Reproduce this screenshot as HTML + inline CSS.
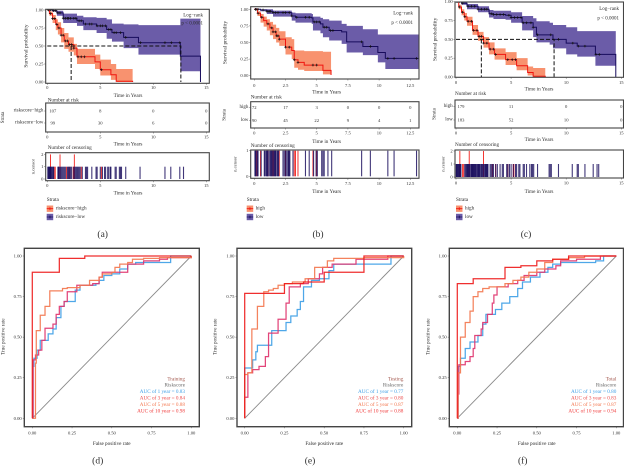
<!DOCTYPE html>
<html>
<head>
<meta charset="utf-8">
<title>Survival and ROC panels</title>
<style>
html,body{margin:0;padding:0;background:#fff;width:624px;height:467px;overflow:hidden}
svg{display:block;filter:blur(0.35px)}
text{font-family:"Liberation Serif",serif;fill:#2e2e2e}
</style>
</head>
<body>
<svg id="figure" width="624" height="467" viewBox="0 0 624 467" xmlns="http://www.w3.org/2000/svg"></svg>
<script>
/* ---------- Kaplan-Meier data ---------- */
const aLowTime=[0,.5,.9,1.5,2.8,3.4,4.65,5.6,6.1,7.2,8.6,12.55,14.45];
const aLowSurv=[1,.99,.96,.885,.85,.805,.78,.73,.685,.62,.546,.36,0];
const aLowUpper=[1,1,.99,.95,.92,.90,.89,.87,.81,.80,.79,.88,.88];
const aLowLower=[1,.98,.92,.82,.78,.72,.68,.60,.56,.47,.38,.15,.15];
const aHighTime=[0,.2,.5,.8,1,1.3,1.6,2,2.5,2.8,4.5,5,6,6.5,8.05];
const aHighSurv=[1,.95,.88,.8,.75,.65,.57,.52,.47,.35,.28,.17,.10,.01,0];
const aHighUpper=[1,.98,.93,.87,.83,.75,.68,.62,.53,.46,.38,.31,.25,.18,.17];
const aHighLower=[1,.92,.82,.72,.66,.55,.46,.42,.37,.25,.18,.09,.03,0,0];
const aLowMarks=[.1,.2,.3,.6,.8,1,1.2,1.5,1.7,1.9,2,2.2,2.5,2.7,3,3.2,3.6,4,4.2,4.7,5,5.2,5.5,5.8,6,6.3,6.5,6.9,7.4,8.8,11.1,11.7,12.5];
const aHighMarks=[.1,.3,.5,.7,.9,1.1,1.3,1.5,1.7,1.9,2.1,2.3,2.5,2.9,3.2,3.5,5.1];
const aCensorLow=[.05,.1,.15,.2,.25,.3,.35,.4,.5,.55,.6,1,1.05,1.1,1.2,1.3,1.4,1.5,1.6,1.7,1.9,2,2.1,2.2,2.3,2.5,2.6,2.7,2.8,2.9,3,3.1,3.3,3.6,3.7,3.8,4.2,4.6,4.7,5,5.2,5.4,5.5,5.7,5.8,5.95,6,6.4,6.5,6.8,6.9,7,7.4,8.75,11.1,11.65,12.5,12.85];
const aCensorHigh=[.3,.65,.75,1.2,1.8,2.05,2.45,2.55,3.2,5.1];
const aCensorHighCounts=[2,1,1,2,1,1,1,2,1,1];
const aRiskHigh=[107,8,0,0];
const aRiskLow=[99,30,6,0];

const bLowTime=[0,.5,1,1.5,3,3.3,4.6,4.7,5.3,5.5,6,7,7.4,8.7,9.9,10.5,13.3];
const bLowSurv=[1,.99,.97,.95,.90,.88,.87,.81,.78,.73,.68,.66,.51,.44,.35,.26,.26];
const bLowUpper=[1,1,1,.98,.95,.94,.93,.89,.87,.85,.83,.78,.75,.70,.62,.62,.62];
const bLowLower=[1,.97,.93,.89,.83,.80,.78,.68,.64,.58,.53,.48,.35,.31,.20,.10,.10];
const bHighTime=[0,.25,.5,.75,1,1.25,1.5,1.75,2,2.5,3,3.2,3.5,4,5.5,6.15];
const bHighSurv=[1,.94,.88,.83,.78,.72,.66,.60,.55,.43,.38,.24,.20,.16,.08,.01];
const bHighUpper=[1,.97,.93,.89,.85,.81,.77,.72,.67,.58,.55,.38,.38,.37,.36,.38];
const bHighLower=[1,.90,.80,.74,.68,.61,.55,.50,.45,.32,.25,.12,.09,.07,.02,0];
const bLowMarks=[.1,.3,.7,1,1.1,1.2,1.3,1.5,1.7,1.9,2.3,2.5,2.8,3,3.4,4.1,4.4,4.8,5,5.2,5.6,5.8,6.1,6.3,8.6,9.3,10.7,11.2,13];
const bHighMarks=[.1,.2,.3,.6,1.1,1.4,1.5,1.7,1.8,1.9,2,2.5,2.8,3.2,3.5,4.7,5];
const bCensorLow=[.05,.1,.15,.25,.3,.55,.8,.85,.95,1,1.05,1.1,1.2,1.3,1.35,1.4,1.45,1.55,1.6,1.65,1.7,1.75,1.85,1.9,1.95,2.3,2.4,2.5,2.6,2.7,2.75,2.8,2.85,3.1,4.1,4.4,4.75,4.95,5.05,5.4,5.5,5.6,5.9,6.2,8.6,9.3,10.7,11.2,13];
const bCensorHigh=[.2,.5,1.1,1.5,2,2.5,3.2,3.3,3.5,4.7,5];
const bCensorHighCounts=[1,1,1,1,1,1,1,1,1,1,1];
const bRiskHigh=[72,17,3,0,0,0];
const bRiskLow=[90,45,22,9,4,1];

const cLowTime=[0,.5,1,2,3,3.4,4.5,5,6,7,7.3,8.5,8.8,10,11,12.65,14.5];
const cLowSurv=[1,.98,.94,.90,.84,.83,.82,.79,.72,.66,.56,.56,.50,.45,.41,.30,0];
const cLowUpper=[1,1,.97,.94,.89,.88,.88,.86,.81,.78,.74,.72,.69,.66,.61,.61,.61];
const cLowLower=[1,.96,.90,.86,.79,.77,.76,.72,.62,.53,.46,.43,.38,.30,.27,.15,.15];
const cHighTime=[0,.25,.5,.75,1,1.5,2,2.5,3,3.5,4.5,5.5,6.5,7,8.1];
const cHighSurv=[1,.93,.86,.80,.74,.62,.54,.45,.37,.30,.23,.15,.06,.01,0];
const cHighUpper=[1,.96,.90,.85,.80,.69,.60,.53,.46,.38,.33,.25,.14,.12,.12];
const cHighLower=[1,.90,.82,.75,.68,.56,.48,.39,.30,.23,.16,.09,.02,0,0];
const cLowMarks=[.1,.3,.6,1.1,1.4,1.7,2,2.3,2.6,2.8,3.2,3.4,3.7,4,4.3,4.8,5,5.3,5.6,5.9,6.1,6.4,6.8,7,7.4,8.6,9.3,10.6,11.1,11.7,12.7,13];
const cHighMarks=[.1,.3,.6,.8,1.1,1.4,1.6,1.9,2.1,2.3,2.5,2.8,3.1,3.4,3.6,4.7,5.1,5.4];
const cCensorLow=[.02,.05,.1,.15,.2,.25,.3,.35,.4,.45,.8,.85,.95,1,1.05,1.1,1.15,1.2,1.25,1.35,1.4,1.45,1.5,1.55,1.6,1.65,1.7,1.75,1.8,1.85,1.95,2,2.05,2.1,2.15,2.2,2.3,2.35,2.4,2.5,2.6,2.65,2.7,2.75,2.8,2.85,2.9,3.1,3.2,3.3,3.4,3.6,3.75,4,4.2,4.3,4.6,4.7,4.85,5,5.2,5.4,5.5,5.7,5.8,6.1,6.2,6.4,6.7,6.85,6.95,7.05,7.4,8.45,8.55,8.65,9.3,10.55,11,11.1,11.7,12.45,12.8,12.95];
const cCensorHigh=[.35,.6,.7,1.2,2.5,3.3,3.6,4.7,5.2,5.25];
const cCensorHighCounts=[2,1,1,2,2,1,1,1,1,1];
const cRiskHigh=[179,11,0,0];
const cRiskLow=[183,52,10,0];

const kmTicksSurv=[0,0.25,0.5,0.75,1];
const kmTickLabelsSurv=["0.00","0.25","0.50","0.75","1.00"];
const timeTicks15=[0,5,10,15];
const timeTicks125=[0,2.5,5,7.5,10,12.5];
const timeLabels125=["0","2.5","5","7.5","10","12.5"];

/* ---------- ROC data ---------- */
const dBlueFpr=[0,.005,.01,.03,.05,.1,.13,.15,.18,.2,.27,.3,.4,.42,.45,.5,.55,.6,.65,.87,1];
const dBlueTpr=[0,.32,.37,.42,.48,.52,.55,.62,.69,.72,.79,.82,.83,.85,.88,.89,.92,.95,.96,1,1];
const dPinkFpr=[0,.005,.02,.04,.06,.08,.13,.15,.17,.2,.22,.28,.38,.42,.44,.55,.6,.7,.8,.85,1];
const dPinkTpr=[0,.36,.39,.42,.48,.555,.58,.64,.69,.72,.78,.82,.83,.87,.90,.90,.95,.97,.98,.99,1];
const dOrangeFpr=[0,.02,.025,.05,.08,.11,.19,.22,.3,.36,.42,.44,.5,.52,.55,.6,.63,.7,.8,1];
const dOrangeTpr=[0,.34,.54,.635,.69,.785,.80,.805,.82,.85,.87,.89,.90,.93,.95,.96,.98,.985,.99,1];
const dRedFpr=[0,0,.17,.33,1];
const dRedTpr=[0,.9,.985,1,1];
const dAuc=["0.83","0.84","0.88","0.98"];

const eBlueFpr=[0,0,.05,.07,.08,.17,.26,.29,.33,.35,.37,.42,.47,.53,.56,.92,1];
const eBlueTpr=[0,.31,.36,.41,.45,.54,.59,.63,.67,.72,.81,.85,.86,.91,.95,1,1];
const ePinkFpr=[0,0,.02,.05,.09,.13,.15,.21,.26,.28,.35,.4,.47,.49,.55,.7,.9,1];
const ePinkTpr=[0,.13,.28,.30,.32,.38,.525,.61,.71,.81,.83,.86,.89,.93,.95,.98,1,1];
const eOrangeFpr=[0,0,.02,.045,.08,.12,.15,.18,.21,.25,.3,.38,.44,.5,.52,.56,.75,1];
const eOrangeTpr=[0,.27,.28,.55,.69,.78,.79,.80,.82,.83,.84,.86,.93,.93,.97,.985,.99,1];
const eRedFpr=[0,0,.25,.37,.5,.75,1];
const eRedTpr=[0,.77,.83,.84,.90,1,1];
const eAuc=["0.77","0.80","0.87","0.88"];

const fBlueFpr=[0,.005,.02,.05,.08,.13,.16,.18,.24,.28,.33,.38,.41,.46,.52,.57,.6,.65,.87,.92,1];
const fBlueTpr=[0,.32,.37,.43,.47,.51,.58,.64,.67,.71,.75,.80,.84,.87,.90,.93,.95,.96,.97,1,1];
const fPinkFpr=[0,.005,.01,.05,.08,.1,.11,.15,.16,.19,.22,.23,.25,.32,.38,.42,.5,.55,.62,.65,.75,.9,1];
const fPinkTpr=[0,.15,.33,.35,.38,.43,.51,.55,.59,.64,.71,.76,.81,.83,.85,.88,.90,.92,.94,.97,.98,1,1];
const fOrangeFpr=[0,.005,.02,.05,.08,.1,.13,.16,.2,.3,.35,.4,.45,.5,.55,.6,.7,.8,1];
const fOrangeTpr=[0,.28,.5,.59,.66,.75,.78,.80,.81,.83,.85,.87,.90,.92,.96,.98,.99,1,1];
const fRedFpr=[0,0,.1,.3,.4,.5,.6,.7,1];
const fRedTpr=[0,.83,.86,.93,.94,.97,.98,1,1];
const fAuc=["0.80","0.83","0.87","0.94"];

const rocTicks=[0,0.25,0.5,0.75,1];
const rocTickLabels=["0.00","0.25","0.50","0.75","1.00"];
const aucYears=["1","3","5","10"];

/* ---------- drawing helpers ---------- */
const NS="http://www.w3.org/2000/svg";
const root=document.getElementById("figure");
const NAVY="#170b5c",BAND_NAVY="#6b5ca8",RED="#f0140f",BAND_RED="#f8926f",FRAME="#444";
function node(tag,attrs,parent){
  const el=document.createElementNS(NS,tag);
  for(const k in attrs)el.setAttribute(k,attrs[k]);
  (parent||root).appendChild(el);
  return el;
}
function text(str,x,y,size,anchor,name,color,rot){
  const el=node("text",{x:x,y:y,"font-size":size,"text-anchor":anchor||"middle","dominant-baseline":"central"});
  if(color)el.style.fill=color;
  if(rot)el.setAttribute("transform","rotate(-90 "+x+" "+y+")");
  el.textContent=str;
  
  
  return el;
}
function frame(x1,y1,x2,y2,name,sw){
  const el=node("rect",{x:x1,y:y1,width:x2-x1,height:y2-y1,fill:"none",stroke:FRAME,"stroke-width":sw||1.1});
  
  
}
function tick(x1,y1,x2,y2){
  const el=node("line",{x1:x1,y1:y1,x2:x2,y2:y2,stroke:"#555","stroke-width":0.5});
  
  
}
function stepPath(t,v,X,Y){
  let d="M"+X(t[0])+" "+Y(v[0]);
  for(let i=1;i<t.length;i++)d+="H"+X(t[i])+"V"+Y(v[i]);
  return d;
}
function bandPath(t,up,lo,X,Y){
  let d="M"+X(t[0])+" "+Y(up[0]);
  for(let i=1;i<t.length;i++)d+="H"+X(t[i])+"V"+Y(up[i]);
  d+="V"+Y(lo[t.length-1]);
  for(let i=t.length-1;i>0;i--)d+="V"+Y(lo[i-1])+"H"+X(t[i-1]);
  return d+"Z";
}
function survAt(t,times,surv){
  let s=surv[0];
  for(let i=0;i<times.length;i++)if(times[i]<=t)s=surv[i];
  return s;
}
function drawStrata(g,series,color,band,X,Y,label){
  const b=node("path",{d:bandPath(series.t,series.u,series.l,X,Y),fill:band},g);
  
  
  const l=node("path",{d:stepPath(series.t,series.s,X,Y),fill:"none",stroke:color,"stroke-width":1},g);
  
  
  series.m.forEach(function(t){
    const x=X(t),y=Y(survAt(t,series.t,series.s));
    const c=node("path",{d:"M"+(x-1.3)+" "+y+"H"+(x+1.3)+"M"+x+" "+(y-1.3)+"V"+(y+1.3),stroke:"#111","stroke-width":0.7,fill:"none"},g);
    
    
  });
}

function drawSurvival(p){
  const X=function(t){return p.x0+(t-p.tMin)*(p.x1-p.x0)/(p.tMax-p.tMin);};
  const Y=function(s){return p.y0+(1-s)*(p.y1-p.y0);};
  const clipId="clip-"+p.id;
  const defs=node("defs",{});
  const cp=node("clipPath",{id:clipId},defs);
  node("rect",{x:p.fl,y:p.ft,width:p.fr-p.fl,height:p.fb-p.ft},cp);
  const g=node("g",{"clip-path":"url(#"+clipId+")"});
  
  
  drawStrata(g,p.low,NAVY,BAND_NAVY,X,Y,"low-risk");
  drawStrata(g,p.high,RED,BAND_RED,X,Y,"high-risk");
  if(p.medians){
    const d=node("path",{d:"M"+X(0)+" "+Y(.5)+"H"+X(p.medians[1])+"V"+Y(0)+"M"+X(p.medians[0])+" "+Y(.5)+"V"+Y(0),fill:"none",stroke:"#111","stroke-width":1,"stroke-dasharray":"4 2"},g);
    
    
  }
  frame(p.fl,p.ft,p.fr,p.fb,"survival-plot-frame");
  text("Log\u2212rank",p.lrx,p.lry,5,"end","log-rank-label");
  text("p < 0.0001",p.lrx,p.lry+(p.id==="a"?8:9.5),5,"end","log-rank-p-value");
  kmTicksSurv.forEach(function(v,i){
    tick(p.fl-1.5,Y(v),p.fl,Y(v));
    text(kmTickLabelsSurv[i],p.fl-2.3,Y(v),4.6,"end","survival-y-tick");
  });
  text("Survival probability",p.ytx,(p.y0+p.y1)/2,5.4,"middle","survival-y-title",null,true);
  p.ticks.forEach(function(v,i){
    tick(X(v),p.fb,X(v),p.fb+1.5);
    text(p.tickLabels[i],X(v),p.tly,4.6,"middle","survival-x-tick");
  });
  text("Time in Years",p.xtc,p.xty,5.2,"middle","survival-x-title");

  /* risk table */
  text("Number at risk",p.fl+(p.id==="a"?2:0),p.rTitle,5.2,"start","risk-table-title");
  frame(p.fl,p.rt,p.fr,p.rb,"risk-table-frame");
  [[p.rHigh,p.rowH,p.names[0]],[p.rLow,p.rowL,p.names[1]]].forEach(function(r){
    text(r[2],p.fl-2.3,r[1],5,"end","risk-row-label");
    tick(p.fl-1.5,r[1],p.fl,r[1]);
    r[0].forEach(function(v,i){
      text(String(v),X(p.ticks[i])+(i===0?p.firstOff:0),r[1],4.6,"middle","risk-count");
    });
  });
  text("Strata",p.stx,(p.rt+p.rb)/2,5,"middle","risk-strata-label",null,true);
  p.ticks.forEach(function(v,i){
    tick(X(v),p.rb,X(v),p.rb+1.5);
    text(p.tickLabels[i],X(v),p.rb+5,4.6,"middle","risk-x-tick");
  });
  text("Time in Years",p.xtc,p.rXt,5.2,"middle","risk-x-title");

  /* censor chart */
  text("Number of censoring",p.fl+(p.id==="a"?2:0),p.cTitle,5.2,"start","censor-chart-title");
  const C=function(n){return p.c0+n*(p.c1-p.c0);};
  const gc=node("g",{"clip-path":"url(#"+clipId+"c)"});
  
  
  const cp2=node("clipPath",{id:clipId+"c"},defs);
  node("rect",{x:p.fl,y:p.ct,width:p.fr-p.fl,height:p.cb-p.ct},cp2);
  p.cHigh.forEach(function(t,i){
    const n=p.cHighN[i];
    const b=node("rect",{x:X(t)-.45,y:C(n),width:.9,height:C(0)-C(n),fill:"#f2211c"},gc);
    
    
  });
  p.cLow.forEach(function(t){
    const b=node("rect",{x:X(t)-.55,y:C(1),width:1.1,height:C(0)-C(1),fill:NAVY,"fill-opacity":.82},gc);
    
    
  });
  frame(p.fl,p.ct,p.fr,p.cb,"censor-chart-frame");
  p.cTicks.forEach(function(n){
    tick(p.fl-1.5,C(n),p.fl,C(n));
    text(String(n),p.fl-2.3,C(n),4.6,"end","censor-y-tick");
  });
  text("n.censor",p.cyx,(p.ct+p.cb)/2,4.6,"middle","censor-y-title",null,true);
  p.ticks.forEach(function(v,i){
    tick(X(v),p.cb,X(v),p.cb+1.5);
    text(p.tickLabels[i],X(v),p.cb+5,4.6,"middle","censor-x-tick");
  });
  text("Time in Years",p.xtc,p.cXt,5.2,"middle","censor-x-title");

  /* legend */
  text("Strata",p.lgx,200,5.2,"start","legend-title");
  [[208.7,BAND_RED,RED,"#111",p.names[0]],[217,BAND_NAVY,NAVY,"#111",p.names[1]]].forEach(function(e){
    const sq=node("rect",{x:p.lgx,y:e[0]-3.2,width:6.5,height:6.4,fill:e[1]});
    
    
    const ln=node("path",{d:"M"+p.lgx+" "+e[0]+"h6.5M"+(p.lgx+3.25)+" "+(e[0]-1.4)+"v2.8",stroke:e[2],"stroke-width":.8});
    
    
    text(e[4],p.lgx+9,e[0],5.2,"start","legend-label");
  });
  text("("+p.id+")",p.capx,235,9.5,"middle","panel-caption");
}

function drawRoc(p){
  const X=function(v){return p.x0+v*(p.x1-p.x0);};
  const Y=function(v){return p.y0+(1-v)*(p.y1-p.y0);};
  const diag=node("line",{x1:X(0),y1:Y(0),x2:X(1),y2:Y(1),stroke:"#8a8a8a","stroke-width":.9});
  
  
  p.curves.forEach(function(c){
    const l=node("path",{d:stepPath(c.f,c.t,X,Y),fill:"none",stroke:c.color,"stroke-width":1.25,"stroke-opacity":.92});
    
    
  });
  frame(p.fl,248.3,p.fr,426.7,"roc-plot-frame",1.4);
  rocTicks.forEach(function(v,i){
    tick(p.fl-1.5,Y(v),p.fl,Y(v));
    text(rocTickLabels[i],p.fl-2.6,Y(v),4.6,"end","roc-y-tick");
    tick(X(v),426.7,X(v),428.2);
    text(rocTickLabels[i],X(v),433,4.6,"middle","roc-x-tick");
  });
  text("True positive rate",p.ytx,336.7,5.2,"middle","roc-y-title",null,true);
  text("False positive rate",p.xtc,444,5.2,"middle","roc-x-title");
  text(p.title,p.lr,379.3,5.2,"end","roc-legend-group","#a2564c");
  text("Riskscore",p.lr,385.7,5.2,"end","roc-legend-score","#6a6a6a");
  const cols=["#3f9fe6","#ea4a4a","#f3774f","#f03a3a"];
  const ys=[392,398.3,405,411.7];
  aucYears.forEach(function(y,i){
    text("AUC of "+y+" year = "+p.auc[i],p.lr,ys[i],5.2,"end","roc-legend-auc",cols[i]);
  });
  text("("+p.id+")",p.capx,461.7,9.5,"middle","panel-caption");
}

drawSurvival({id:"a",x0:47.3,x1:206.3,tMin:0,tMax:15,y0:10,y1:82,fl:45.7,fr:209.3,ft:9.3,fb:83.3,
  low:{t:aLowTime,s:aLowSurv,u:aLowUpper,l:aLowLower,m:aLowMarks},
  high:{t:aHighTime,s:aHighSurv,u:aHighUpper,l:aHighLower,m:aHighMarks},
  medians:[2.25,12.6],lrx:203,lry:16,ytx:26.7,ticks:timeTicks15,tickLabels:timeTicks15.map(String),tly:87.7,xtc:128,xty:96,
  rTitle:100.5,rt:103,rb:132,rowH:111,rowL:123,rHigh:aRiskHigh,rLow:aRiskLow,firstOff:5.5,names:["riskscore\u2212high","riskscore\u2212low"],stx:3.5,rXt:144.5,
  cTitle:148,ct:152.7,cb:180.7,c0:179,c1:166.7,cTicks:[0,1,2],cHigh:aCensorHigh,cHighN:aCensorHighCounts,cLow:aCensorLow,cyx:33,cXt:193.5,
  lgx:46.7,capx:102.7});
drawSurvival({id:"b",x0:254.3,x1:410.3,tMin:0,tMax:12.5,y0:9.3,y1:75.7,fl:250.7,fr:419,ft:6.7,fb:79,
  low:{t:bLowTime,s:bLowSurv,u:bLowUpper,l:bLowLower,m:bLowMarks},
  high:{t:bHighTime,s:bHighSurv,u:bHighUpper,l:bHighLower,m:bHighMarks},
  lrx:413,lry:14,ytx:225.7,ticks:timeTicks125,tickLabels:timeLabels125,tly:85.7,xtc:326.7,xty:92.7,
  rTitle:97.5,rt:101.7,rb:128,rowH:107.3,rowL:120.7,rHigh:bRiskHigh,rLow:bRiskLow,firstOff:0,names:["high","low"],stx:225,rXt:142,
  cTitle:146,ct:150,cb:178.3,c0:176.3,c1:150.7,cTicks:[0,1],cHigh:bCensorHigh,cHighN:bCensorHighCounts,cLow:bCensorLow,cyx:235,cXt:192,
  lgx:246.7,capx:318});
drawSurvival({id:"c",x0:456,x1:621.3,tMin:0,tMax:15,y0:1.7,y1:77,fl:455,fr:623.5,ft:2,fb:77.3,
  low:{t:cLowTime,s:cLowSurv,u:cLowUpper,l:cLowLower,m:cLowMarks},
  high:{t:cHighTime,s:cHighSurv,u:cHighUpper,l:cHighLower,m:cHighMarks},
  medians:[2.3,8.9],lrx:619,lry:9.5,ytx:435.7,ticks:timeTicks15,tickLabels:timeTicks15.map(String),tly:82.7,xtc:539,xty:89.3,
  rTitle:94,rt:100,rb:128,rowH:106.7,rowL:120,rHigh:cRiskHigh,rLow:cRiskLow,firstOff:5,names:["high","low"],stx:435,rXt:140,
  cTitle:145,ct:150,cb:178,c0:177,c1:164,cTicks:[0,1,2],cHigh:cCensorHigh,cHighN:cCensorHighCounts,cLow:cCensorLow,cyx:443,cXt:192,
  lgx:456,capx:526});

function rocCurves(bf,bt,pf,pt,of,ot,rf,rt){
  return [
    {f:bf,t:bt,color:"#3f9fe6",name:"roc-curve-1-year"},
    {f:pf,t:pt,color:"#e0356f",name:"roc-curve-3-year"},
    {f:of,t:ot,color:"#f3774f",name:"roc-curve-5-year"},
    {f:rf,t:rt,color:"#ee1c1c",name:"roc-curve-10-year"}
  ];
}
drawRoc({id:"d",x0:32.3,x1:191.3,y0:256,y1:418.3,fl:24.3,fr:199.3,ytx:3.5,xtc:111.7,lr:185,capx:97.7,title:"Training",auc:dAuc,
  curves:rocCurves(dBlueFpr,dBlueTpr,dPinkFpr,dPinkTpr,dOrangeFpr,dOrangeTpr,dRedFpr,dRedTpr)});
drawRoc({id:"e",x0:244.7,x1:403.7,y0:256,y1:418.3,fl:237,fr:411.7,ytx:215.7,xtc:324.3,lr:403.3,capx:310,title:"Testing",auc:eAuc,
  curves:rocCurves(eBlueFpr,eBlueTpr,ePinkFpr,ePinkTpr,eOrangeFpr,eOrangeTpr,eRedFpr,eRedTpr)});
drawRoc({id:"f",x0:457.3,x1:616.3,y0:256,y1:418.3,fl:449.3,fr:623.5,ytx:428.3,xtc:536.7,lr:616.3,capx:522.7,title:"Total",auc:fAuc,
  curves:rocCurves(fBlueFpr,fBlueTpr,fPinkFpr,fPinkTpr,fOrangeFpr,fOrangeTpr,fRedFpr,fRedTpr)});
</script>
</body>
</html>
